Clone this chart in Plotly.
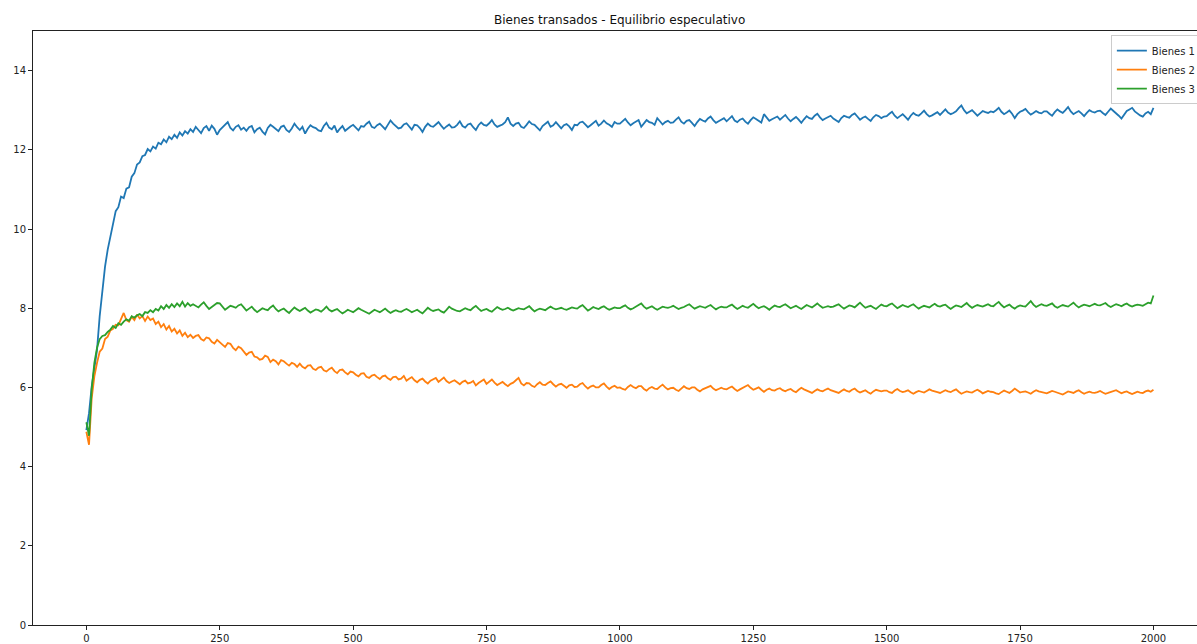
import plotly.graph_objects as go

# Simulation steps, sampled every 5 steps
steps = list(range(0, 2001, 5))

bienes_1 = [
    4.92, 5.35, 6.02, 6.48, 6.95, 7.80, 8.52, 9.05, 9.48, 9.78,
    10.12, 10.45, 10.55, 10.82, 10.78, 11.02, 11.05, 11.32, 11.41, 11.63,
    11.68, 11.84, 11.87, 12.02, 11.96, 12.08, 12.03, 12.18, 12.14, 12.26,
    12.19, 12.33, 12.27, 12.38, 12.30, 12.44, 12.36, 12.47, 12.41, 12.52,
    12.45, 12.58, 12.50, 12.42, 12.55, 12.60, 12.48, 12.61, 12.53, 12.38, 12.50, 12.57, 12.64, 12.70, 12.55, 12.49, 12.58, 12.62, 12.51, 12.56,
    12.48, 12.57, 12.60, 12.44, 12.52, 12.56, 12.46, 12.39, 12.55, 12.63, 12.58, 12.52, 12.47, 12.58, 12.61, 12.50, 12.45, 12.54, 12.66, 12.57,
    12.50, 12.58, 12.41, 12.53, 12.62, 12.57, 12.55, 12.49, 12.47, 12.60, 12.68, 12.56, 12.52, 12.61, 12.44, 12.53, 12.60, 12.48, 12.54, 12.59,
    12.63, 12.55, 12.49, 12.60, 12.58, 12.66, 12.71, 12.58, 12.55, 12.62, 12.66, 12.59, 12.52, 12.63, 12.74, 12.66, 12.60, 12.54, 12.56, 12.64,
    12.67, 12.58, 12.51, 12.63, 12.62, 12.55, 12.45, 12.58, 12.66, 12.60, 12.58, 12.64, 12.70, 12.61, 12.53, 12.59, 12.64, 12.56, 12.57, 12.63,
    12.72, 12.60, 12.56, 12.64, 12.66, 12.57, 12.50, 12.62, 12.69, 12.63, 12.61, 12.67, 12.75, 12.64, 12.58, 12.61, 12.64, 12.70, 12.82, 12.66,
    12.60, 12.66, 12.68, 12.58, 12.55, 12.63, 12.72, 12.65, 12.63, 12.56, 12.49, 12.60, 12.66, 12.71, 12.58, 12.62, 12.70, 12.61, 12.54, 12.62,
    12.65, 12.59, 12.50, 12.63, 12.62, 12.69, 12.71, 12.64, 12.57, 12.62, 12.68, 12.73, 12.61, 12.66, 12.74, 12.67, 12.63, 12.58, 12.70, 12.66,
    12.66, 12.72, 12.78, 12.69, 12.62, 12.67, 12.71, 12.75, 12.58, 12.66, 12.75, 12.70, 12.68, 12.63, 12.80, 12.72, 12.64, 12.70, 12.73, 12.68,
    12.69, 12.76, 12.82, 12.71, 12.66, 12.73, 12.75, 12.68, 12.60, 12.70, 12.78, 12.74, 12.71, 12.79, 12.84, 12.75, 12.68, 12.72, 12.76, 12.80,
    12.72, 12.79, 12.85, 12.74, 12.70, 12.76, 12.79, 12.71, 12.66, 12.75, 12.82, 12.78, 12.74, 12.69, 12.90, 12.80, 12.73, 12.77, 12.80, 12.84,
    12.76, 12.83, 12.88, 12.79, 12.72, 12.78, 12.83, 12.76, 12.68, 12.77, 12.85, 12.80, 12.78, 12.86, 12.91, 12.82, 12.75, 12.79, 12.82, 12.86,
    12.79, 12.74, 12.70, 12.80, 12.86, 12.83, 12.81, 12.88, 12.92, 12.84, 12.76, 12.81, 12.84, 12.78, 12.73, 12.82, 12.88, 12.85, 12.80, 12.84,
    12.85, 12.91, 12.96, 12.86, 12.80, 12.85, 12.90, 12.83, 12.76, 12.86, 12.93, 12.88, 12.86, 12.92, 12.99, 12.90, 12.84, 12.87, 12.91, 12.95,
    12.88, 12.95, 13.02, 12.94, 12.90, 12.93, 12.97, 13.05, 13.12, 13.00, 12.92, 12.96, 13.00, 12.93, 12.86, 12.92, 12.98, 12.95, 12.93, 12.97,
    12.95, 13.00, 13.06, 12.96, 12.90, 12.94, 12.99, 12.91, 12.80, 12.90, 12.96, 12.99, 13.03, 12.95, 12.89, 12.93, 12.98, 12.94, 12.92, 12.97,
    12.97, 12.91, 12.86, 12.95, 13.02, 12.97, 12.93, 13.00, 13.08, 12.97, 12.90, 12.94, 12.98, 12.92, 12.85, 12.93, 13.00, 12.96, 12.94, 12.98,
    12.99, 12.93, 12.88, 12.96, 13.04, 12.98, 12.93, 12.86, 12.79, 12.90, 12.98, 13.02, 13.06, 12.97, 12.91, 12.87, 12.84, 12.92, 12.96, 12.90,
    13.06,
]

bienes_2 = [
    4.88, 4.55, 5.72, 6.28, 6.62, 6.90, 6.98, 7.22, 7.28, 7.44,
    7.48, 7.58, 7.57, 7.72, 7.88, 7.70, 7.66, 7.78, 7.70, 7.84,
    7.74, 7.80, 7.68, 7.79, 7.70, 7.74, 7.60, 7.66, 7.52, 7.60,
    7.46, 7.55, 7.41, 7.48, 7.36, 7.44, 7.30, 7.38, 7.27, 7.33,
    7.25, 7.30, 7.32, 7.22, 7.18, 7.26, 7.24, 7.15, 7.11, 7.20, 7.15, 7.08, 7.02, 7.12, 7.10, 7.00, 6.94, 7.03, 6.99, 6.90,
    6.82, 6.88, 6.90, 6.78, 6.76, 6.70, 6.72, 6.80, 6.77, 6.64, 6.70, 6.66, 6.58, 6.69, 6.66, 6.60, 6.55, 6.62, 6.59, 6.52,
    6.60, 6.52, 6.48, 6.55, 6.56, 6.47, 6.44, 6.50, 6.52, 6.43, 6.40, 6.46, 6.50, 6.41, 6.36, 6.44, 6.45, 6.38, 6.33, 6.40,
    6.38, 6.32, 6.28, 6.35, 6.36, 6.27, 6.24, 6.30, 6.32, 6.26, 6.21, 6.28, 6.30, 6.23, 6.19, 6.26, 6.27, 6.20, 6.22, 6.29,
    6.17, 6.22, 6.26, 6.18, 6.13, 6.19, 6.22, 6.15, 6.10, 6.17, 6.20, 6.24, 6.14, 6.19, 6.25, 6.16, 6.11, 6.15, 6.18, 6.13,
    6.08, 6.14, 6.17, 6.10, 6.12, 6.16, 6.05, 6.11, 6.16, 6.20, 6.09, 6.14, 6.20, 6.12, 6.06, 6.10, 6.14, 6.08, 6.03, 6.09,
    6.12, 6.18, 6.24, 6.10, 6.05, 6.11, 6.10, 6.04, 6.01, 6.08, 6.13, 6.07, 6.06, 6.11, 6.15, 6.08, 6.02, 6.07, 6.09, 6.04,
    5.99, 6.05, 6.07, 6.01, 6.02, 6.08, 6.11, 6.03, 5.97, 6.02, 6.05, 6.00, 6.00, 6.06, 6.10, 6.02, 5.96, 6.01, 6.04, 5.99,
    6.00, 5.96, 5.94, 6.01, 6.06, 6.01, 5.98, 6.03, 6.03, 5.96, 5.92, 5.98, 6.01, 5.97, 5.96, 6.02, 6.07, 6.00, 5.95, 5.98,
    5.99, 5.94, 5.91, 5.97, 6.03, 5.98, 5.96, 6.00, 6.00, 5.94, 5.90, 5.95, 5.98, 6.02, 6.04, 5.97, 5.93, 5.96, 5.99, 5.96,
    5.95, 5.99, 6.02, 5.96, 5.91, 5.95, 5.98, 6.03, 6.06, 5.99, 5.94, 5.97, 6.00, 5.94, 5.89, 5.94, 5.97, 5.93, 5.92, 5.96,
    5.98, 5.93, 5.90, 5.94, 5.96, 5.91, 5.88, 5.94, 5.99, 5.95, 5.92, 5.88, 5.86, 5.91, 5.95, 5.92, 5.90, 5.94, 5.97, 5.93,
    5.91, 5.88, 5.86, 5.91, 5.95, 5.91, 5.89, 5.94, 5.97, 5.91, 5.87, 5.90, 5.93, 5.88, 5.84, 5.90, 5.94, 5.92, 5.90, 5.92,
    5.92, 5.88, 5.86, 5.92, 5.96, 5.91, 5.88, 5.90, 5.93, 5.88, 5.84, 5.88, 5.91, 5.89, 5.87, 5.91, 5.95, 5.92, 5.89, 5.88,
    5.86, 5.90, 5.93, 5.90, 5.88, 5.92, 5.95, 5.89, 5.84, 5.87, 5.90, 5.88, 5.87, 5.91, 5.94, 5.90, 5.85, 5.88, 5.91, 5.89,
    5.88, 5.85, 5.83, 5.88, 5.92, 5.89, 5.86, 5.91, 5.97, 5.92, 5.87, 5.89, 5.90, 5.87, 5.84, 5.89, 5.93, 5.90, 5.88, 5.86,
    5.85, 5.88, 5.91, 5.89, 5.87, 5.84, 5.82, 5.86, 5.90, 5.88, 5.86, 5.90, 5.93, 5.88, 5.84, 5.87, 5.89, 5.87, 5.86, 5.88,
    5.91, 5.87, 5.84, 5.86, 5.88, 5.91, 5.93, 5.89, 5.85, 5.88, 5.90, 5.86, 5.83, 5.86, 5.89, 5.87, 5.86, 5.90, 5.92, 5.89,
    5.94,
]

bienes_3 = [
    5.12, 4.78, 5.95, 6.62, 7.00, 7.22, 7.30, 7.32, 7.40, 7.46,
    7.55, 7.50, 7.62, 7.58, 7.66, 7.72, 7.68, 7.80, 7.76, 7.82,
    7.85, 7.80, 7.90, 7.88, 7.95, 7.90, 7.98, 7.94, 8.05, 7.98,
    8.08, 8.01, 8.10, 8.03, 8.12, 8.05, 8.16, 8.04, 8.13, 8.06,
    8.10, 8.05, 8.02, 8.09, 8.15, 8.06, 7.98, 8.03, 8.08, 8.13, 8.12, 8.03, 7.96, 8.01, 8.06, 8.04, 8.01, 8.07, 8.10, 8.02,
    7.94, 7.99, 8.04, 7.96, 7.90, 7.95, 8.00, 7.97, 7.95, 8.02, 8.07, 7.98, 7.92, 7.96, 7.99, 7.93, 7.88, 7.95, 8.02, 7.97,
    7.93, 7.97, 8.01, 7.94, 7.89, 7.93, 7.97, 7.95, 7.91, 7.97, 8.04, 7.96, 7.92, 7.95, 7.98, 7.92, 7.87, 7.91, 7.96, 7.93,
    7.90, 7.95, 8.00, 7.96, 7.92, 7.89, 7.86, 7.91, 7.96, 7.93, 7.90, 7.94, 7.99, 7.93, 7.88, 7.92, 7.95, 7.92, 7.91, 7.95,
    7.98, 7.94, 7.90, 7.93, 7.96, 7.91, 7.87, 7.94, 8.01, 7.96, 7.93, 7.95, 7.97, 7.92, 7.89, 7.96, 8.04, 7.99, 7.95, 7.93,
    7.92, 7.96, 8.00, 7.97, 7.95, 8.01, 8.06, 7.99, 7.93, 7.96, 7.98, 7.94, 7.91, 7.97, 8.03, 7.99, 7.96, 7.98, 8.01, 7.97,
    7.94, 7.97, 8.00, 7.98, 7.97, 8.01, 8.05, 7.98, 7.92, 7.96, 7.99, 7.97, 7.95, 8.00, 8.04, 8.00, 7.97, 7.99, 8.01, 7.98,
    7.96, 7.99, 8.02, 8.00, 7.99, 8.04, 8.08, 8.01, 7.94, 7.98, 8.03, 8.00, 7.98, 8.02, 8.05, 8.00, 7.96, 7.99, 8.02, 8.00,
    8.00, 8.04, 8.07, 8.01, 7.97, 8.00, 8.03, 8.08, 8.12, 8.04, 7.99, 8.02, 8.05, 8.00, 7.96, 8.00, 8.04, 8.02, 8.01, 8.03,
    8.06, 8.02, 7.98, 8.01, 8.03, 8.07, 8.10, 8.04, 7.99, 8.02, 8.05, 8.03, 8.01, 8.05, 8.08, 8.02, 7.97, 8.01, 8.04, 8.02,
    8.02, 8.06, 8.09, 8.03, 7.98, 8.02, 8.06, 8.03, 8.01, 8.06, 8.11, 8.05, 8.00, 8.03, 8.05, 8.01, 7.96, 8.02, 8.07, 8.04,
    8.03, 8.07, 8.10, 8.05, 8.00, 8.03, 8.06, 8.02, 7.98, 8.03, 8.08, 8.05, 8.02, 8.07, 8.12, 8.06, 8.01, 8.03, 8.05, 8.03,
    8.04, 8.07, 8.10, 8.04, 7.99, 8.03, 8.07, 8.05, 8.02, 8.08, 8.14, 8.07, 8.01, 8.04, 8.06, 8.02, 7.98, 8.04, 8.09, 8.06,
    8.05, 8.09, 8.12, 8.06, 8.00, 8.04, 8.08, 8.05, 8.03, 8.07, 8.10, 8.04, 7.99, 8.03, 8.06, 8.04, 8.02, 8.07, 8.11, 8.06,
    8.04, 8.07, 8.09, 8.03, 7.98, 8.03, 8.07, 8.05, 8.03, 8.08, 8.13, 8.06, 8.01, 8.05, 8.08, 8.06, 8.04, 8.07, 8.10, 8.06,
    8.05, 8.11, 8.16, 8.08, 8.02, 8.06, 8.09, 8.03, 7.99, 8.04, 8.07, 8.05, 8.04, 8.11, 8.18, 8.09, 8.03, 8.07, 8.10, 8.07,
    8.06, 8.09, 8.12, 8.05, 8.01, 8.05, 8.08, 8.06, 8.04, 8.09, 8.14, 8.07, 8.02, 8.06, 8.09, 8.07, 8.05, 8.08, 8.11, 8.08,
    8.07, 8.10, 8.13, 8.07, 8.03, 8.07, 8.10, 8.08, 8.05, 8.09, 8.12, 8.07, 8.04, 8.07, 8.09, 8.08, 8.06, 8.10, 8.14, 8.12,
    8.32,
]

series_names = ["Bienes 1", "Bienes 2", "Bienes 3"]
series_colors = ["#1f77b4", "#ff7f0e", "#2ca02c"]
x_ticks = [0, 250, 500, 750, 1000, 1250, 1500, 1750, 2000]
y_ticks = [0, 2, 4, 6, 8, 10, 12, 14]

font_family = "DejaVu Sans"

fig = go.Figure()
for name, values, color in zip(series_names, [bienes_1, bienes_2, bienes_3], series_colors):
    fig.add_trace(go.Scatter(
        x=steps, y=values, mode="lines", name=name,
        line=dict(color=color, width=1.8),
    ))

axis_common = dict(
    showgrid=False, zeroline=False,
    showline=True, linecolor="#222222", linewidth=1,
    ticks="outside", ticklen=4, tickwidth=1, tickcolor="#222222",
    tickfont=dict(family=font_family, size=10, color="#222222"),
)

fig.update_layout(
    width=1197, height=644,
    margin=dict(l=33, r=0, t=31, b=19, autoexpand=False),
    plot_bgcolor="white", paper_bgcolor="white",
    font=dict(family=font_family, size=10, color="#222222"),
    title=dict(
        text="Bienes transados - Equilibrio especulativo",
        font=dict(family=font_family, size=12, color="#111111"),
        x=0.504, xref="paper", xanchor="center",
        y=1 - 20 / 644, yref="container", yanchor="middle",
    ),
    xaxis=dict(range=[-100, 2081.6], tickvals=x_ticks, mirror=True, **axis_common),
    yaxis=dict(range=[0, 15], tickvals=y_ticks, **axis_common),
    legend=dict(
        x=0.926, y=0.993, xanchor="left", yanchor="top",
        bgcolor="rgba(255,255,255,0.8)", bordercolor="#cccccc", borderwidth=1,
        font=dict(family=font_family, size=10, color="#222222"),
        tracegroupgap=0,
    ),
    showlegend=True,
)

fig.write_html("out.html")
